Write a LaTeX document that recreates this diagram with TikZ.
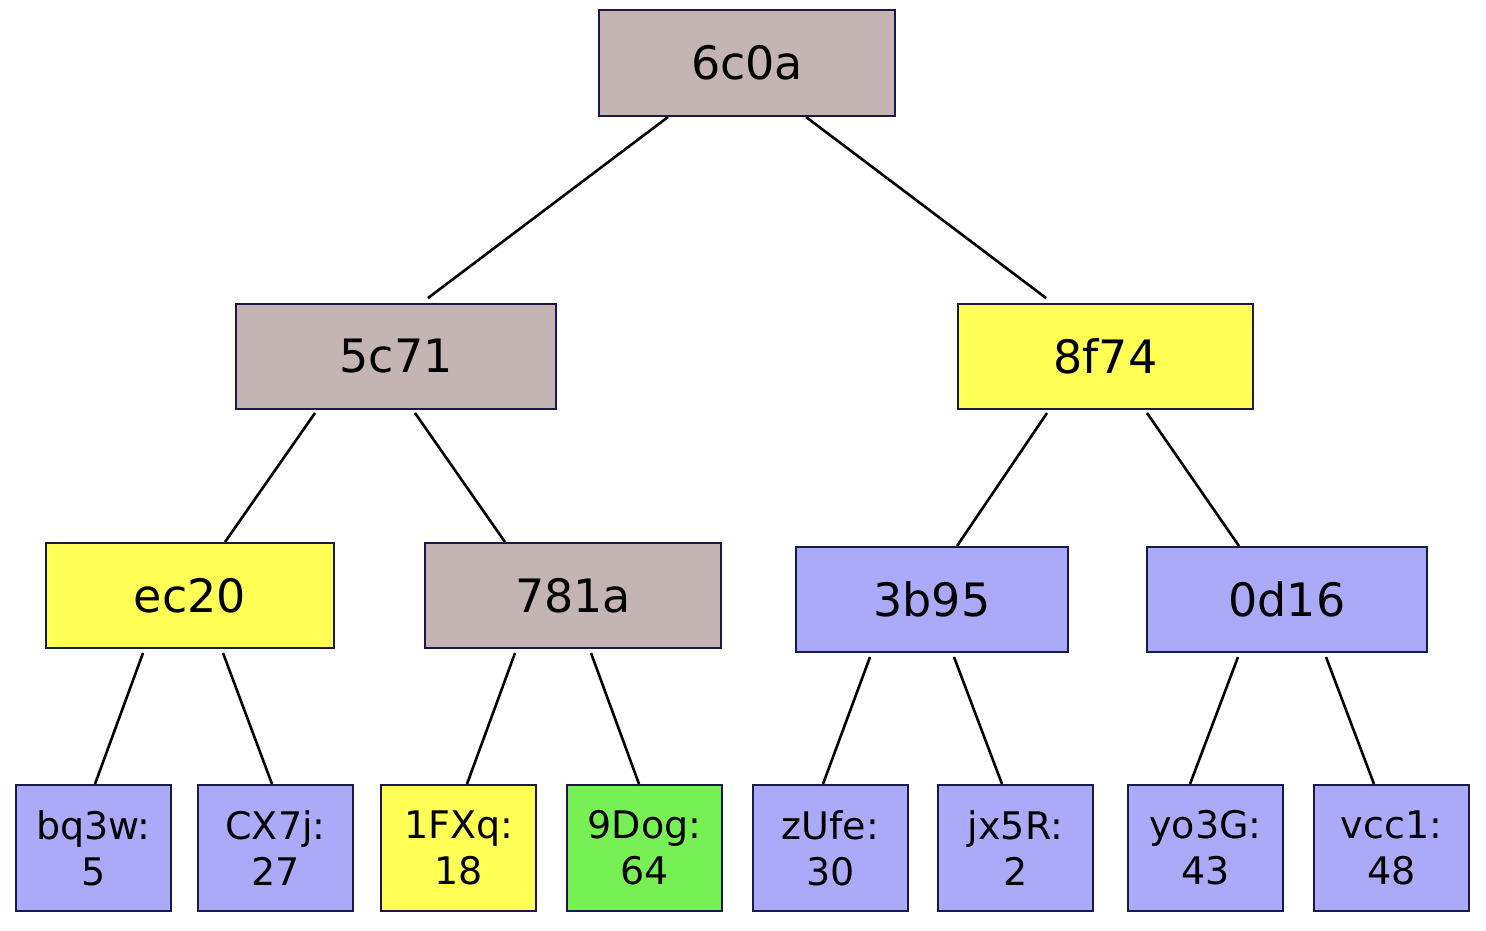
\documentclass[tikz,border=0pt]{standalone}
\usepackage{fontspec}
\setmainfont{DejaVu Sans}
\usetikzlibrary{calc}
\definecolor{cgray}{HTML}{C4B4B4}
\definecolor{cyel}{HTML}{FFFF55}
\definecolor{cblue}{HTML}{AAAAF8}
\definecolor{cgreen}{HTML}{77F055}
\definecolor{cbord}{HTML}{1A1A4A}
\begin{document}
\begin{tikzpicture}[x=1pt,y=-1pt,
  box/.style={draw=cbord,line width=2pt,inner sep=0pt,anchor=north west},
  big/.style={font=\fontsize{46}{50}\selectfont},
  leaf/.style={font=\fontsize{38}{46}\selectfont,align=center},
  edge/.style={line width=2.6pt,black}]
\useasboundingbox (0,0) rectangle (1486,930);
\newcommand\bx[7]{\node[box,fill=#6,minimum width=#3-#2,minimum height=#5-#4,#7] (#1) at (#2,#4) {};}
\bx{a}{598}{894}{9}{115}{cgray}{}
\bx{b}{235}{555}{303}{408}{cgray}{}
\bx{c}{957}{1252}{303}{408}{cyel}{}
\bx{d}{45}{333}{542}{647}{cyel}{}
\bx{e}{424}{720}{542}{647}{cgray}{}
\bx{f}{795}{1067}{546}{651}{cblue}{}
\bx{g}{1146}{1426}{546}{651}{cblue}{}
\node[big] at (a.center) {6c0a};
\node[big] at (b.center) {5c71};
\node[big] at (c.center) {8f74};
\node[big] at (d.center) {ec20};
\node[big] at (e.center) {781a};
\node[big] at (f.center) {3b95};
\node[big] at (g.center) {0d16};
\bx{l1}{15}{170}{784}{910}{cblue}{}
\bx{l2}{197}{352}{784}{910}{cblue}{}
\bx{l3}{380}{535}{784}{910}{cyel}{}
\bx{l4}{566}{721}{784}{910}{cgreen}{}
\bx{l5}{752}{907}{784}{910}{cblue}{}
\bx{l6}{937}{1092}{784}{910}{cblue}{}
\bx{l7}{1127}{1282}{784}{910}{cblue}{}
\bx{l8}{1313}{1468}{784}{910}{cblue}{}
\node[leaf] at (l1.center) {bq3w:\\5};
\node[leaf] at (l2.center) {CX7j:\\27};
\node[leaf] at (l3.center) {1FXq:\\18};
\node[leaf] at (l4.center) {9Dog:\\64};
\node[leaf] at (l5.center) {zUfe:\\30};
\node[leaf] at (l6.center) {jx5R:\\2};
\node[leaf] at (l7.center) {yo3G:\\43};
\node[leaf] at (l8.center) {vcc1:\\48};
\draw[edge] ($(a.south west)+(70,0)$) -- ($(b.north west)+(193,-5)$);
\draw[edge] ($(a.south west)+(208,0)$) -- ($(c.north west)+(89,-5)$);
\draw[edge] ($(b.south west)+(80,3)$) -- ($(d.north west)+(180,0)$);
\draw[edge] ($(b.south west)+(180,3)$) -- ($(e.north west)+(81,0)$);
\draw[edge] ($(c.south west)+(90,3)$) -- ($(f.north west)+(162,0)$);
\draw[edge] ($(c.south west)+(190,3)$) -- ($(g.north west)+(93,0)$);
\draw[edge] ($(d.south west)+(98,4)$) -- ($(l1.north west)+(80,0)$);
\draw[edge] ($(d.south west)+(178,4)$) -- ($(l2.north west)+(75,0)$);
\draw[edge] ($(e.south west)+(91,4)$) -- ($(l3.north west)+(87,0)$);
\draw[edge] ($(e.south west)+(167,4)$) -- ($(l4.north west)+(73,0)$);
\draw[edge] ($(f.south west)+(75,4)$) -- ($(l5.north west)+(71,0)$);
\draw[edge] ($(f.south west)+(159,4)$) -- ($(l6.north west)+(65,0)$);
\draw[edge] ($(g.south west)+(92,4)$) -- ($(l7.north west)+(63,0)$);
\draw[edge] ($(g.south west)+(180,4)$) -- ($(l8.north west)+(61,0)$);
\end{tikzpicture}
\end{document}
